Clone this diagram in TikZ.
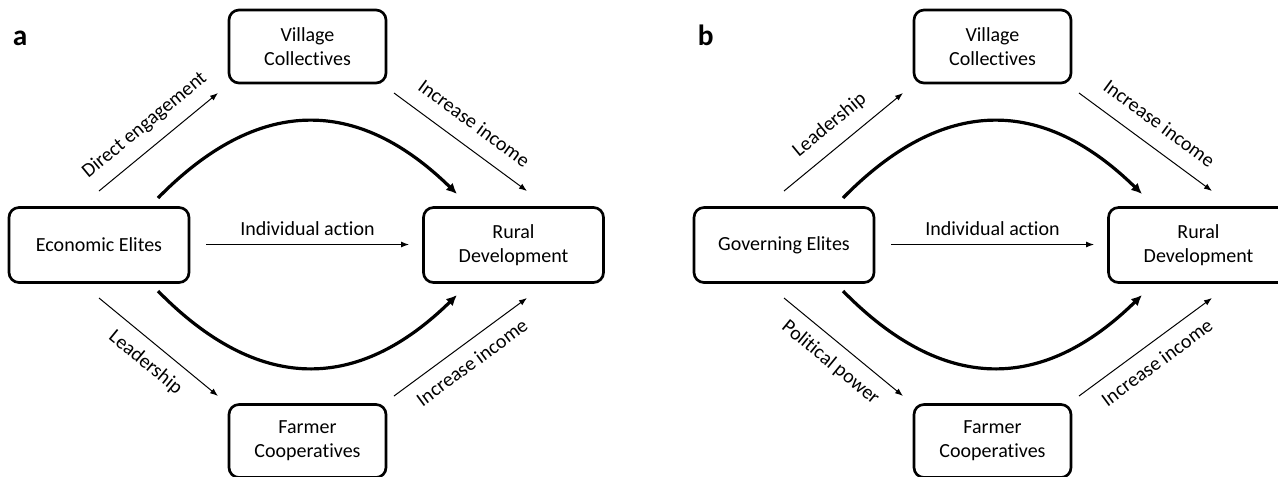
\documentclass[tikz,border=0pt]{standalone}
\usepackage{fontspec}
\setmainfont{Carlito}[Ligatures={NoCommon,NoDiscretionary}]
\usetikzlibrary{arrows.meta}
\newcommand\mainfs{\fontsize{15}{18}\selectfont}
\tikzset{
  box/.style={draw, line width=2pt, rounded corners=7.5pt, align=center,
    font=\mainfs, inner sep=0pt},
  smallbox/.style={box, minimum width=117.75pt, minimum height=54.75pt},
  sidebox/.style={box, minimum width=135pt, minimum height=56.25pt},
  thinarrow/.style={line width=0.75pt, -{Latex[length=6pt,width=4.5pt]}},
  thickarrow/.style={line width=2.4pt, -{Latex[length=8pt,width=7.5pt]}},
  lab/.style={font=\mainfs, sloped, inner sep=2pt, text height=10pt, text depth=3pt},
  panellab/.style={font=\fontsize{22}{24}\selectfont\bfseries, anchor=base west, inner sep=0pt},
}
\newcommand\drawpanel[5]{%
\begin{scope}[shift={(#1,0)}]
  \node[panellab] (#2-lab) at (12.5,45) {#2};
  \node[smallbox] (#2-V) at (307.5,46.5) {Village\\Collectives};
  \node[sidebox] (#2-E) at (99,245) {#3};
  \node[sidebox] (#2-R) at (513.5,245) {Rural\\Development};
  \node[smallbox] (#2-F) at (307.5,441) {Farmer\\Cooperatives};
  \coordinate (#2-ul1) at (99,191);
  \coordinate (#2-ul2) at (218,93);
  \coordinate (#2-ur1) at (394,93);
  \coordinate (#2-ur2) at (527,191);
  \coordinate (#2-ll1) at (99,298);
  \coordinate (#2-ll2) at (218,396);
  \coordinate (#2-lr1) at (394,396);
  \coordinate (#2-lr2) at (527,298);
  \coordinate (#2-m1) at (206,244.5);
  \coordinate (#2-m2) at (409,244.5);
  \coordinate (#2-cu1) at (158,198);
  \coordinate (#2-cu2) at (457,194);
  \coordinate (#2-cl1) at (158,291);
  \coordinate (#2-cl2) at (457,295);
  \draw[thinarrow] (#2-ul1) -- node[lab, midway, above=7pt] {#4} (#2-ul2);
  \draw[thinarrow] (#2-ur1) -- node[lab, midway, above=7pt] {Increase income} (#2-ur2);
  \draw[thinarrow] (#2-ll1) -- node[lab, midway, below=7pt] {#5} (#2-ll2);
  \draw[thinarrow] (#2-lr1) -- node[lab, midway, below=7pt] {Increase income} (#2-lr2);
  \draw[thinarrow] (#2-m1) -- node[font=\mainfs, inner sep=2pt, midway, above=4.5pt] {Individual action} (#2-m2);
  \draw[thickarrow] (#2-cu1) .. controls (258,96) and (357,96) .. (#2-cu2);
  \draw[thickarrow] (#2-cl1) .. controls (258,393) and (357,393) .. (#2-cl2);
\end{scope}}
\begin{document}
\begin{tikzpicture}[x=0.75pt, y=-0.75pt]
  \useasboundingbox (0,0) rectangle (1278,476);
  \drawpanel{0}{a}{Economic Elites}{Direct engagement}{Leadership}
  \drawpanel{685}{b}{Governing Elites}{Leadership}{Political power}
\end{tikzpicture}
\end{document}
